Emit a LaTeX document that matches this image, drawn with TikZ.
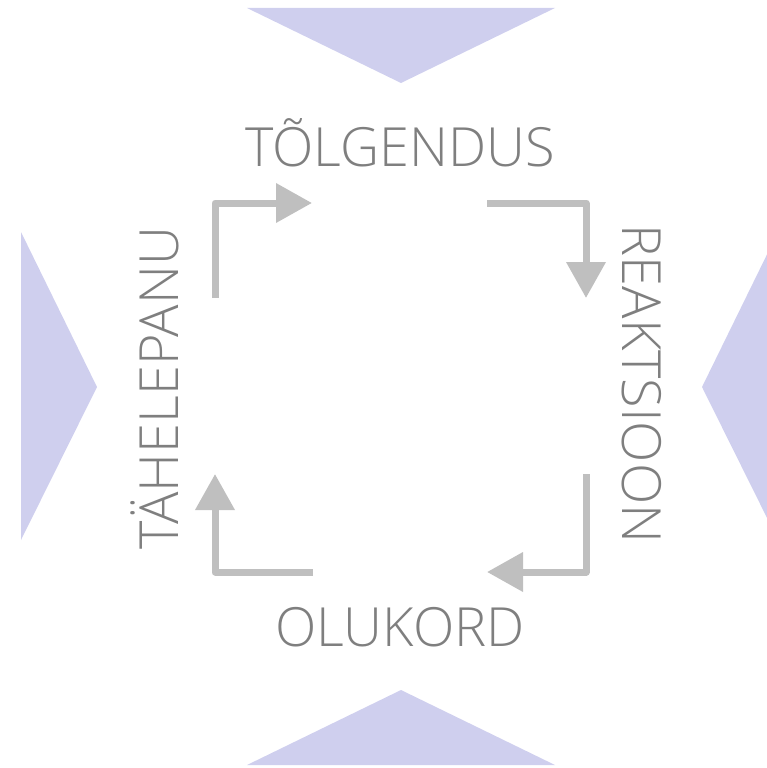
\documentclass[tikz,border=0pt]{standalone}
\usepackage{fontspec}
\setmainfont{Open Sans Light}
\usetikzlibrary{arrows.meta}
\definecolor{wedgefill}{RGB}{207,207,238}
\definecolor{cyclegray}{RGB}{191,191,191}
\definecolor{labelgray}{RGB}{127,127,127}
\tikzset{
  wedge/.style={fill=wedgefill,draw=none},
  cyclearrow/.style={cyclegray,line width=7pt,line join=round,
    -{Triangle[length=36pt,width=38pt]}},
  phase/.style={labelgray,inner sep=0pt,anchor=base,
    font=\fontsize{54}{60}\selectfont},
}
\begin{document}
\begin{tikzpicture}[x=1pt,y=-1pt]
  \useasboundingbox (0,0) rectangle (767,768);
  \clip (0,0) rectangle (767,768);
  % --- kolmnurgad ---
  \fill[wedge] (247,8) -- (555,8) -- (401,83) -- cycle;
  \fill[wedge] (247,765) -- (555,765) -- (401,690) -- cycle;
  \fill[wedge] (21,232) -- (97,387) -- (21,540) -- cycle;
  \fill[wedge] (778,232) -- (702,387) -- (778,540) -- cycle;
  % --- faasid ---
  \node[phase] (tolgendus) at (400,166) {TÕLGENDUS};
  \node[phase] (olukord) at (400,646) {OLUKORD};
  \node[phase,rotate=90] (tahelepanu) at (178,388) {TÄHELEPANU};
  \node[phase,rotate=-90] (reaktsioon) at (622,384) {REAKTSIOON};
  % --- tsükli nooled ---
  \coordinate (tlA) at (215,298);
  \coordinate (tlB) at (312,203);
  \coordinate (trA) at (487,203);
  \coordinate (trB) at (586,298);
  \coordinate (brA) at (586,474);
  \coordinate (brB) at (487,572);
  \coordinate (blA) at (313,572);
  \coordinate (blB) at (215,474);
  \draw[cyclearrow] (tlA) |- (tlB);
  \draw[cyclearrow] (trA) -| (trB);
  \draw[cyclearrow] (brA) |- (brB);
  \draw[cyclearrow] (blA) -| (blB);
\end{tikzpicture}
\end{document}
